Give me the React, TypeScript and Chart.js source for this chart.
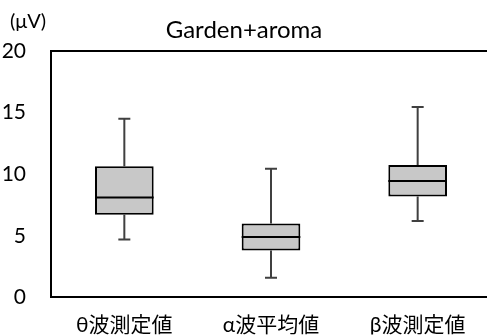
import React, { useEffect, useRef } from "react";
import { Chart, registerables } from "chart.js";

Chart.register(...registerables);

const categories = ["θ波測定値", "α波平均値", "β波測定値"];
const whiskerMin = [4.7, 1.6, 6.2];
const q1 = [6.7, 3.8, 8.2];
const median = [8.1, 4.9, 9.45];
const q3 = [10.65, 6.0, 10.75];
const whiskerMax = [14.5, 10.45, 15.45];
const yTicks = [0, 5, 10, 15, 20];
const title = "Garden+aroma";
const unit = "(μV)";

const FONT = "Lato, 'Noto Sans CJK JP', sans-serif";

const boxPlugin = {
  id: "boxExtras",
  beforeDatasetsDraw(chart: any) {
    const { ctx, scales } = chart;
    const xs = scales.x;
    const ys = scales.y;
    ctx.save();
    ctx.strokeStyle = "#404040";
    ctx.lineWidth = 2;
    categories.forEach((_, i) => {
      const x = xs.getPixelForValue(i);
      const yMin = ys.getPixelForValue(whiskerMin[i]);
      const yMax = ys.getPixelForValue(whiskerMax[i]);
      const yQ1 = ys.getPixelForValue(q1[i]);
      const yQ3 = ys.getPixelForValue(q3[i]);
      ctx.beginPath();
      ctx.moveTo(x, yQ3);
      ctx.lineTo(x, yMax);
      ctx.moveTo(x - 6, yMax);
      ctx.lineTo(x + 6, yMax);
      ctx.moveTo(x, yQ1);
      ctx.lineTo(x, yMin);
      ctx.moveTo(x - 6, yMin);
      ctx.lineTo(x + 6, yMin);
      ctx.stroke();
    });
    ctx.restore();
  },
  afterDatasetsDraw(chart: any) {
    const { ctx, scales, chartArea } = chart;
    const xs = scales.x;
    const ys = scales.y;
    const meta = chart.getDatasetMeta(0);
    ctx.save();
    ctx.strokeStyle = "#000";
    ctx.lineWidth = 2;
    categories.forEach((_, i) => {
      const bar = meta.data[i];
      const half = bar.width / 2;
      const x = xs.getPixelForValue(i);
      const y = ys.getPixelForValue(median[i]);
      ctx.beginPath();
      ctx.moveTo(x - half, y);
      ctx.lineTo(x + half, y);
      ctx.stroke();
    });
    // top border
    ctx.beginPath();
    ctx.moveTo(chartArea.left - 1, chartArea.top);
    ctx.lineTo(chartArea.right, chartArea.top);
    ctx.stroke();
    ctx.restore();
  },
  afterDraw(chart: any) {
    const { ctx } = chart;
    ctx.save();
    ctx.fillStyle = "#000";
    ctx.textBaseline = "middle";
    ctx.font = "24px " + FONT;
    ctx.textAlign = "center";
    ctx.fillText(title, 244, 30);
    ctx.font = "20px " + FONT;
    ctx.textAlign = "left";
    ctx.fillText(unit, 10, 22);
    ctx.restore();
  },
};

export default function App() {
  const ref = useRef<HTMLCanvasElement>(null);
  useEffect(() => {
    if (!ref.current) return;
    const chart = new Chart(ref.current, {
      type: "bar",
      data: {
        labels: categories,
        datasets: [
          {
            data: categories.map((_, i) => [q1[i], q3[i]]) as any,
            backgroundColor: "#c8c8c8",
            borderColor: "#000",
            borderWidth: 2,
            borderSkipped: false,
            barPercentage: 0.4,
            categoryPercentage: 1,
          },
        ],
      },
      options: {
        responsive: false,
        animation: false,
        layout: { padding: { top: 51, left: 0, right: 0, bottom: 0 } },
        plugins: { legend: { display: false }, tooltip: { enabled: false }, title: { display: false } },
        scales: {
          x: {
            grid: { display: false, drawTicks: false },
            border: { display: true, color: "#000", width: 2 },
            ticks: { color: "#000", font: { family: FONT, size: 21 }, padding: 15, maxRotation: 0 },
            afterFit(scale: any) {
              scale.height = 37;
            },
          },
          y: {
            min: 0,
            max: 20,
            grid: { display: false, drawTicks: false },
            border: { display: true, color: "#000", width: 2 },
            afterBuildTicks(scale: any) {
              scale.ticks = yTicks.map((v) => ({ value: v }));
            },
            ticks: { color: "#000", font: { family: FONT, size: 21 }, padding: 25 },
            afterFit(scale: any) {
              scale.width = 51;
            },
          },
        },
      },
      plugins: [boxPlugin],
    });
    return () => chart.destroy();
  }, []);
  return (
    <div style={{ position: "fixed", left: 0, top: 0, width: 487, height: 335, overflow: "hidden", background: "#fff" }}>
      <canvas ref={ref} width={491} height={335} style={{ display: "block" }} />
    </div>
  );
}
